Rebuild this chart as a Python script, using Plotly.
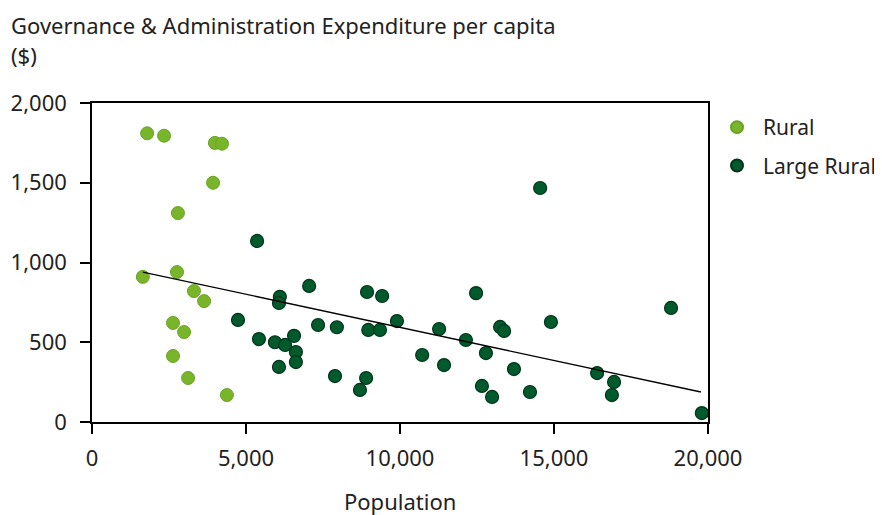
import plotly.graph_objects as go

# Rural councils: population, expenditure per capita ($)
rural_pop = [1790, 2340, 3990, 4220, 3930, 2790, 1650, 2760, 3310, 3640, 2630, 2990, 2630, 3120, 4380]
rural_exp = [1810, 1795, 1750, 1745, 1500, 1310, 910, 940, 821, 758, 621, 564, 414, 276, 169]

# Large Rural councils
large_pop = [5360, 4740, 6100, 6070, 5420, 5940, 6270, 6560, 6620, 6620, 6070,
             7050, 8930, 9420, 12470, 7340, 7950, 8970, 9350, 9900, 11270, 12140,
             10720, 11430, 12790, 7890, 8900, 8700, 12660, 12990,
             14550, 18800, 14900, 13250, 13380, 13700, 14220, 16400, 16950, 16880, 19800]
large_exp = [1135, 640, 785, 746, 520, 500, 483, 540, 439, 376, 345,
             853, 815, 790, 808, 608, 594, 577, 577, 633, 583, 514,
             420, 357, 432, 288, 276, 201, 226, 157,
             1467, 715, 627, 596, 571, 332, 188, 307, 251, 169, 56]

# Linear trend line end points
trend_pop = [1650, 19770]
trend_exp = [940, 188]

x_ticks = [0, 5000, 10000, 15000, 20000]
y_ticks = [0, 500, 1000, 1500, 2000]

FONT = "Noto Sans"
FS = 22
TXT = "#222"

# the page body adds an 8px offset, so the figure is shrunk and margins compensated
FW, FH = 874, 507
ML, MT, PW, PH = 84, 95, 616, 319

fig = go.Figure()
fig.add_trace(go.Scatter(
    x=rural_pop, y=rural_exp, mode="markers", name="Rural", legendgroup="a",
    marker=dict(size=13, color="#79B52A", line=dict(color="#6AA322", width=1)),
))
fig.add_trace(go.Scatter(
    x=large_pop, y=large_exp, mode="markers", name="Large Rural", legendgroup="b",
    marker=dict(size=13, color="#005A2B", line=dict(color="#003519", width=1.2)),
))
fig.add_trace(go.Scatter(
    x=trend_pop, y=trend_exp, mode="lines", showlegend=False,
    line=dict(color="black", width=1.3), hoverinfo="skip",
))

axis_common = dict(
    showgrid=False, zeroline=False, showline=True, linecolor="black", linewidth=1.5,
    mirror=True, ticks="outside", ticklen=10, tickwidth=1.5, tickcolor="black",
    tickfont=dict(family=FONT, size=FS, color=TXT),
)

fig.update_layout(
    width=FW, height=FH,
    margin=dict(l=ML, r=FW - ML - PW, t=MT, b=FH - MT - PH, autoexpand=False),
    paper_bgcolor="white", plot_bgcolor="white",
    font=dict(family=FONT, size=FS, color=TXT),
    xaxis=dict(range=[0, 20000], tickvals=x_ticks, tickformat=",d",
               ticklabelstandoff=6, automargin=False, **axis_common),
    yaxis=dict(range=[0, 2000], tickvals=y_ticks, tickformat=",d",
               ticklabelstandoff=9, automargin=False, **axis_common),
    legend=dict(x=1 + 3/PW, xanchor="left", y=1 - 4/PH, yanchor="top",
                font=dict(family=FONT, size=21, color=TXT),
                itemsizing="constant", itemwidth=42, traceorder="grouped",
                tracegroupgap=8, bgcolor="rgba(0,0,0,0)"),
    showlegend=True,
    annotations=[
        dict(text="Governance & Administration Expenditure per capita",
             xref="paper", yref="paper", x=-83/PW, y=1 + 78/PH,
             xanchor="left", yanchor="middle", showarrow=False,
             font=dict(family=FONT, size=FS, color=TXT)),
        dict(text="($)", xref="paper", yref="paper", x=-83/PW, y=1 + 48/PH,
             xanchor="left", yanchor="middle", showarrow=False,
             font=dict(family=FONT, size=FS, color=TXT)),
        dict(text="Population", xref="paper", yref="paper", x=0.5, y=-79/PH,
             xanchor="center", yanchor="middle", showarrow=False,
             font=dict(family=FONT, size=FS, color=TXT)),
    ],
)

fig.write_html("out.html")
